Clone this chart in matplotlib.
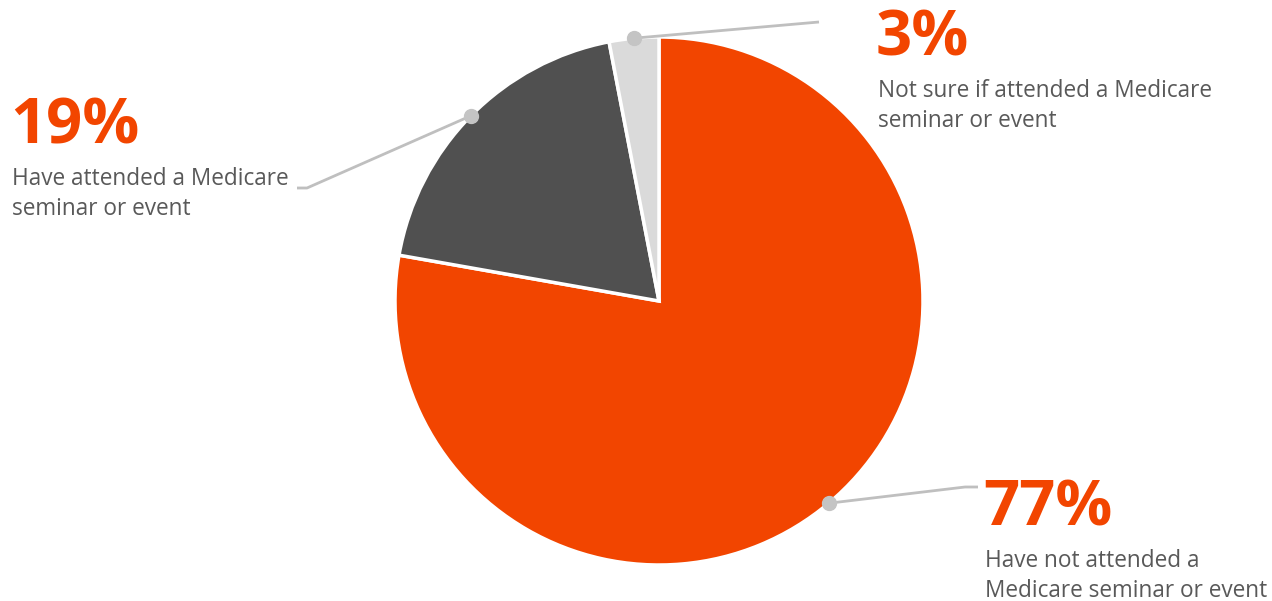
import numpy as np
import matplotlib
matplotlib.use('Agg')
import matplotlib.pyplot as plt

# data
values = [77, 19, 3]
pct_labels = ['77%', '19%', '3%']
descriptions = [
    'Have not attended a\nMedicare seminar or event',
    'Have attended a Medicare\nseminar or event',
    'Not sure if attended a Medicare\nseminar or event',
]
colors = ['#F24500', '#505050', '#DADADA']

W, H = 1272, 601
ORANGE = '#F24500'
TEXT_GRAY = '#595959'
LINE_GRAY = '#BFBFBF'

plt.rcParams['font.family'] = ['Open Sans', 'DejaVu Sans']

fig = plt.figure(figsize=(W / 100, H / 100), dpi=100, facecolor='white')
ax = fig.add_axes([0, 0, 1, 1])

cx, cy, r = 659, H - 301, 264
wedges, _ = ax.pie(values, colors=colors, startangle=90, counterclock=False,
                   center=(cx, cy), radius=r, frame=True,
                   wedgeprops=dict(edgecolor='white', linewidth=2.5))
ax.set_xlim(0, W)
ax.set_ylim(0, H)
ax.set_aspect('equal')
ax.set_axis_off()

# leader line elbows (image coords) and label anchors
elbows = [[(965, 487), (978, 487)], [(307, 188), (297, 188)], [(819, 22), (819, 22)]]
label_x = [985, 12, 878]
pct_base = [525, 143, 55]

for i, w in enumerate(wedges):
    ang = np.deg2rad((w.theta1 + w.theta2) / 2)
    px, py = cx + r * np.cos(ang), cy + r * np.sin(ang)
    xs = [px] + [e[0] for e in elbows[i]]
    ys = [py] + [H - e[1] for e in elbows[i]]
    ax.plot(xs, ys, color=LINE_GRAY, lw=2, zorder=3, solid_capstyle='butt')
    ax.plot(px, py, 'o', color='#C4C4C4', ms=10, zorder=4)

    ax.text(label_x[i] - 2, H - pct_base[i], pct_labels[i], color=ORANGE,
            fontsize=45.5, fontweight='bold', va='baseline', ha='left')
    for j, line in enumerate(descriptions[i].split('\n')):
        ax.text(label_x[i], H - (pct_base[i] + 42 + 30 * j), line, color=TEXT_GRAY,
                fontsize=16.3, va='baseline', ha='left')

fig.savefig('out.png', dpi=100, facecolor='white')
